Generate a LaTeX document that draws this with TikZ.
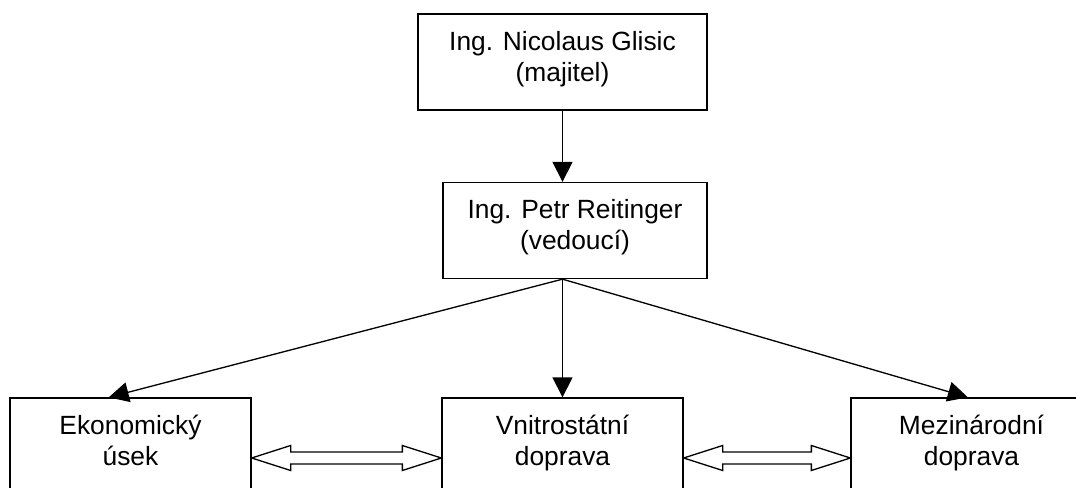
\documentclass[tikz,border=0pt]{standalone}
\usepackage{fontspec}
\setmainfont{Liberation Sans}
\usetikzlibrary{arrows.meta,calc}

\begin{document}
\begin{tikzpicture}[>={Triangle[length=4mm,width=4mm]}, line width=0.75pt,
    box/.style={draw, align=center, inner sep=0pt, minimum height=1.92cm,
                text height=1.0cm, text depth=0.23cm,
                font=\fontsize{15}{17.5}\selectfont}]

    \useasboundingbox (0,0) rectangle (21.52,-9.76);

    \def\dblarrow#1#2{%
      \draw (#1) -- ++(0.78,0.25) -- ++(0,-0.13) -- ($(#2)+(-0.78,0.12)$)
        -- ++(0,0.13) -- (#2) -- ++(-0.78,-0.25) -- ++(0,0.13)
        -- ($(#1)+(0.78,-0.12)$) -- ++(0,-0.13) -- cycle;}

    % --- boxes ---
    \node[box, minimum width=5.78cm] (owner) at (11.25,-1.24)
        {Ing. Nicolaus Glisic\\(majitel)};
    \node[box, minimum width=5.28cm] (head) at (11.5,-4.61)
        {Ing. Petr Reitinger\\(vedoucí)};
    \node[box, minimum width=4.82cm] (eco) at (2.61,-8.92)
        {Ekonomický\\úsek};
    \node[box, minimum width=4.82cm] (domestic) at (11.25,-8.92)
        {Vnitrostátní\\doprava};
    \node[box, minimum width=4.82cm] (intl) at (19.43,-8.92)
        {Mezinárodní\\doprava};

    % --- arrows ---
    \coordinate (hub) at (owner.south |- head.south);
    \draw[->] (owner.south) -- (owner.south |- head.north);
    \draw[->] (hub) -- ($(eco.north west)!0.41!(eco.north east)$);
    \draw[->] (hub) -- (domestic.north);
    \draw[->] (hub) -- ($(intl.north west)!0.485!(intl.north east)$);

    % --- double arrows ---
    \coordinate (e1) at ($(eco.east)+(0,-0.24)$);
    \coordinate (d1) at ($(domestic.west)+(0,-0.24)$);
    \coordinate (d2) at ($(domestic.east)+(0,-0.24)$);
    \coordinate (i1) at ($(intl.west)+(0,-0.24)$);
    \dblarrow{e1}{d1}
    \dblarrow{d2}{i1}

\end{tikzpicture}
\end{document}
